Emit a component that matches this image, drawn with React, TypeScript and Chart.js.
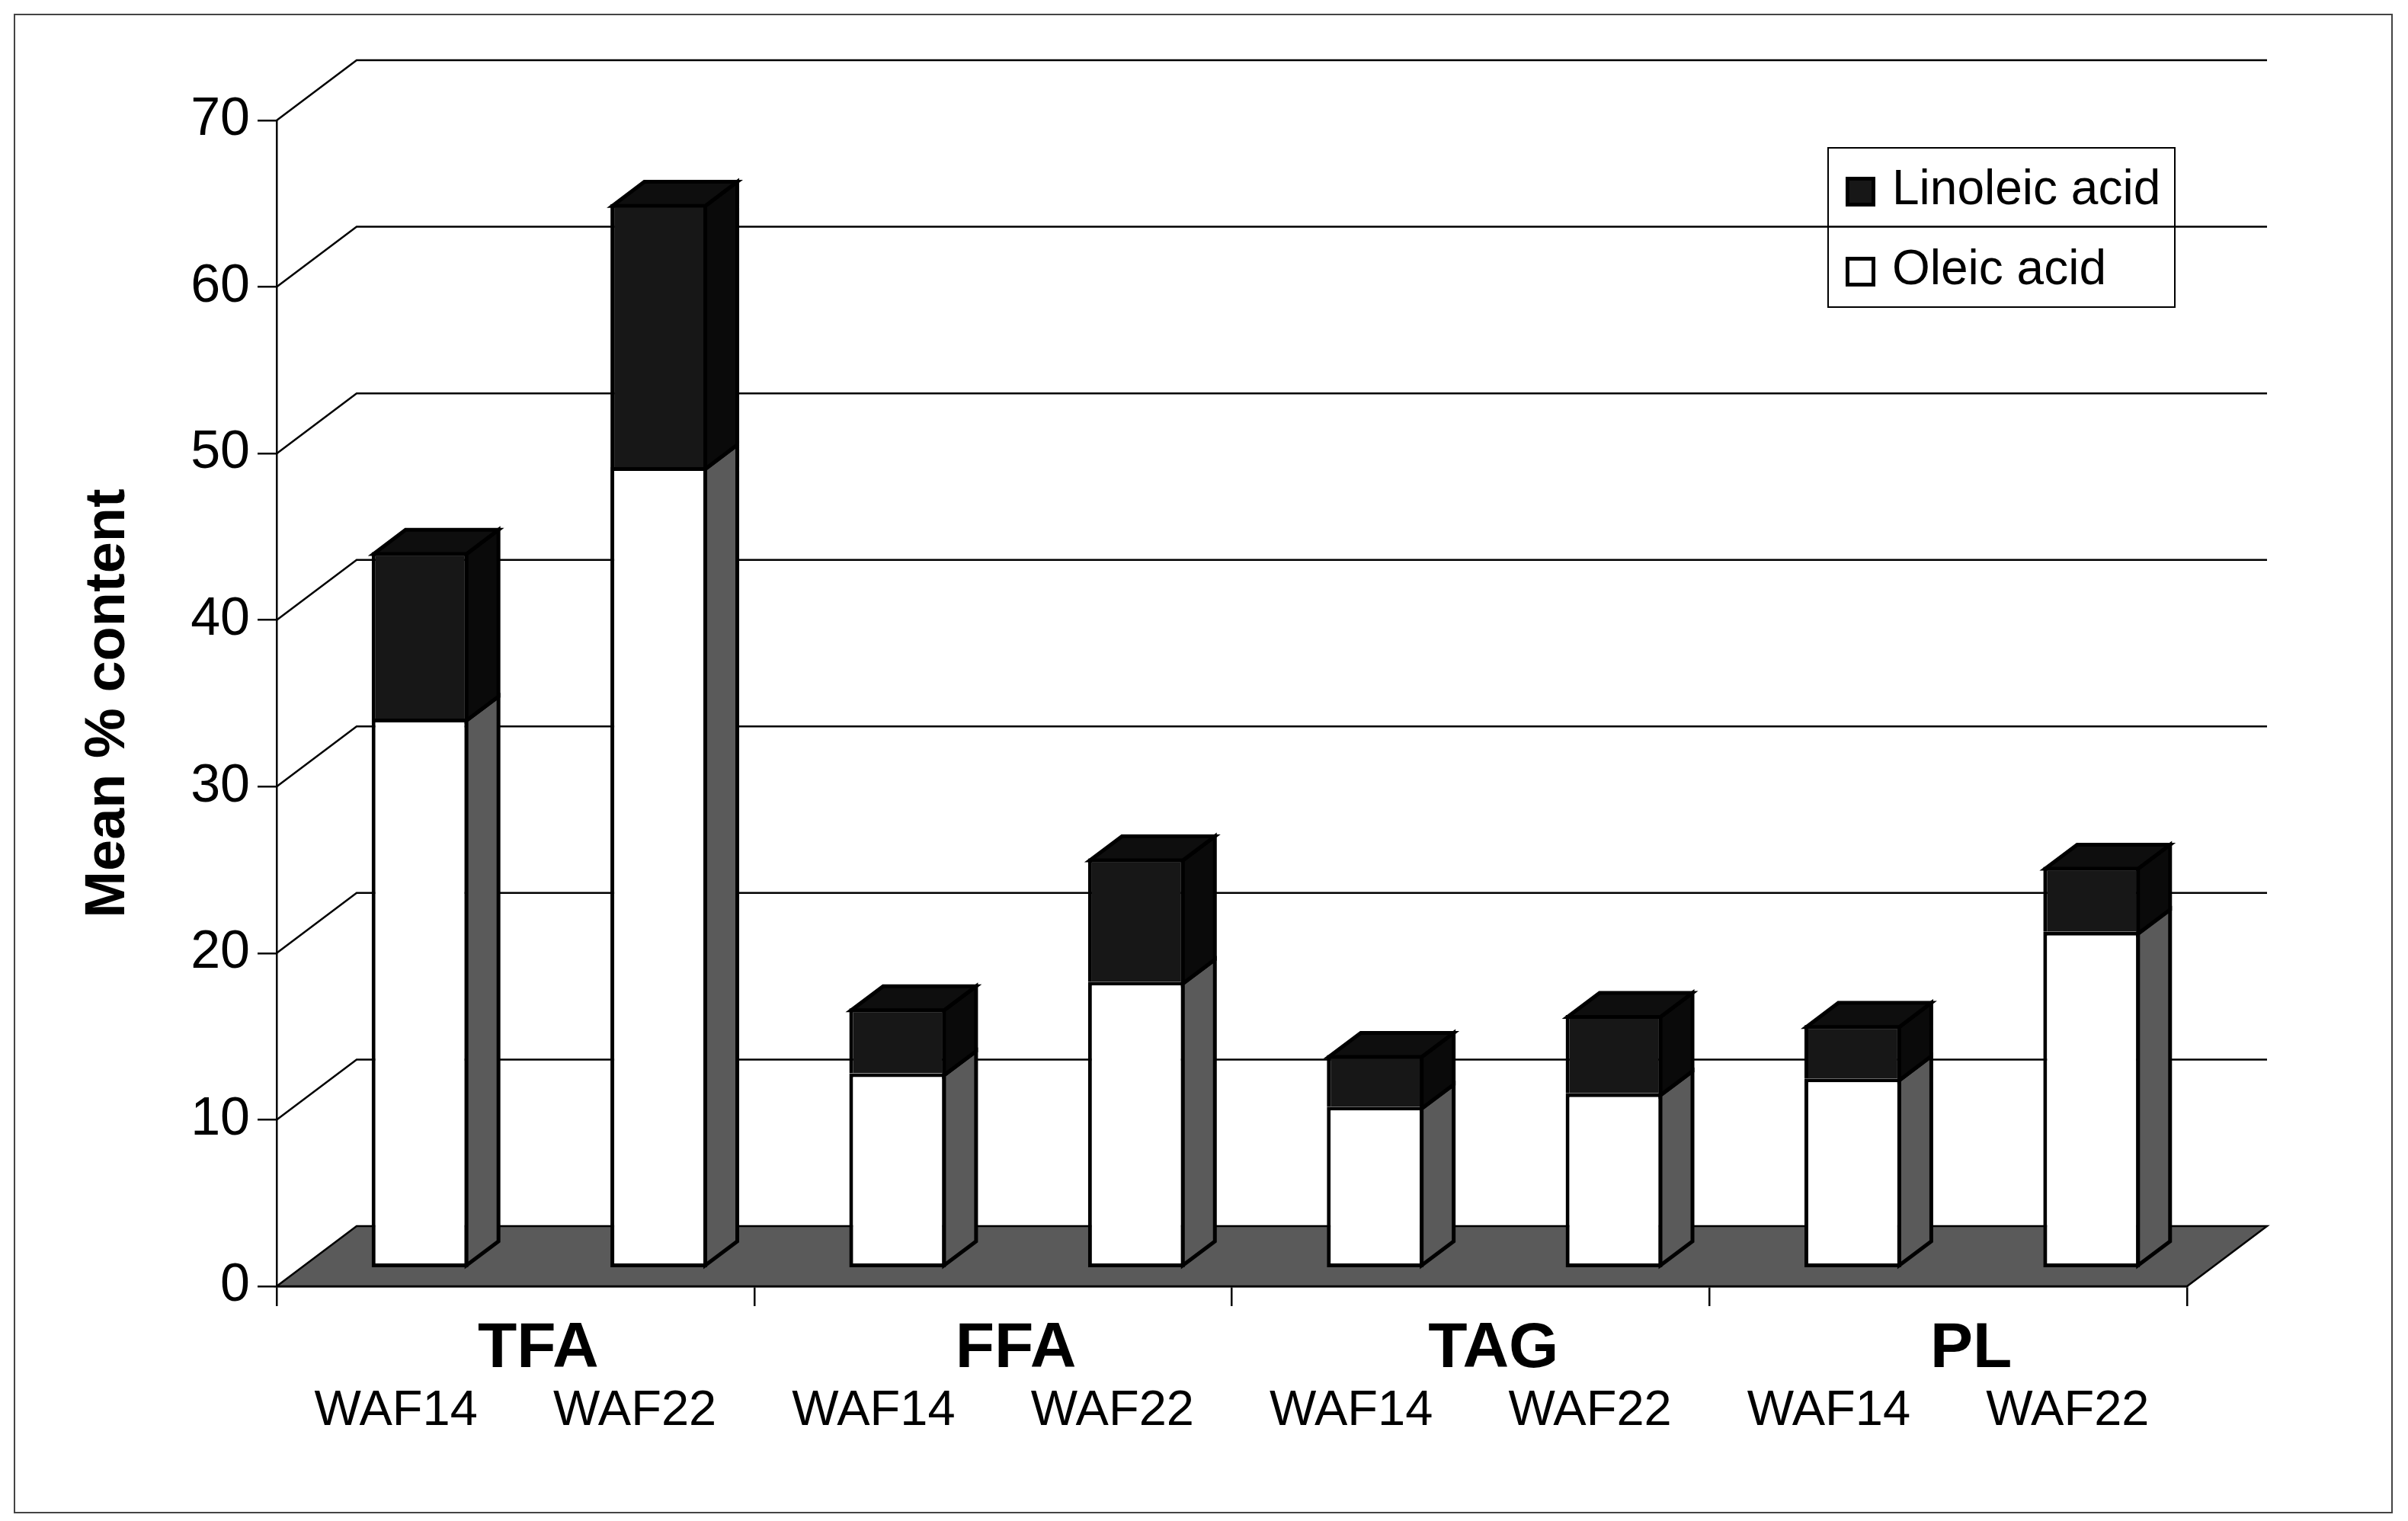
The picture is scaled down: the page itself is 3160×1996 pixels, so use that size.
import React, { useEffect, useRef } from 'react';
import { Chart, registerables } from 'chart.js';

Chart.register(...registerables);

const groups = ['TFA', 'FFA', 'TAG', 'PL'];
const samples = ['WAF14', 'WAF22', 'WAF14', 'WAF22', 'WAF14', 'WAF22', 'WAF14', 'WAF22'];
const oleic = [33.0, 48.1, 11.7, 17.2, 9.7, 10.5, 11.4, 20.2];
const linoleic = [10.0, 15.8, 3.9, 7.4, 3.1, 4.7, 3.2, 3.9];
const yMax = 70;
const yStep = 10;

const FONT = '"Liberation Sans", Arial, Helvetica, sans-serif';

// oblique depth of the whole plot box, and where the bars sit inside it
const WALL_DX = 105;
const WALL_DY = -79;
const BAR_FRONT = 0.3;
const BAR_DEPTH = 0.4;
const EDGE = 5;

const poly = (ctx: CanvasRenderingContext2D, pts: number[][], fill: string) => {
  ctx.beginPath();
  pts.forEach(([px, py], i) => (i === 0 ? ctx.moveTo(px, py) : ctx.lineTo(px, py)));
  ctx.closePath();
  ctx.fillStyle = fill;
  ctx.fill();
  ctx.stroke();
};

const depthPlugin = {
  id: 'depth3d',
  beforeDraw(chart: any) {
    const { ctx, width, height } = chart;
    ctx.save();
    ctx.fillStyle = '#fff';
    ctx.fillRect(0, 0, width, height);
    ctx.strokeStyle = '#444';
    ctx.lineWidth = 2;
    ctx.strokeRect(19, 19, 3120, 1966);
    ctx.restore();
  },
  beforeDatasetsDraw(chart: any) {
    const { ctx, chartArea: { left, right, bottom } } = chart;
    const y = chart.scales.y;
    ctx.save();
    ctx.strokeStyle = '#000';
    ctx.lineWidth = 2.5;
    y.ticks.forEach((t: any) => {
      if (t.value <= 0) return;
      const py = y.getPixelForValue(t.value);
      ctx.beginPath();
      ctx.moveTo(left, py);
      ctx.lineTo(left + WALL_DX, py + WALL_DY);
      ctx.lineTo(right + WALL_DX, py + WALL_DY);
      ctx.stroke();
    });
    ctx.lineJoin = 'miter';
    poly(ctx, [
      [left, bottom],
      [left + WALL_DX, bottom + WALL_DY],
      [right + WALL_DX, bottom + WALL_DY],
      [right, bottom],
    ], '#5a5a5a');
    ctx.restore();
    // front faces of the bars are drawn by Chart.js inside this shift
    ctx.save();
    ctx.translate(WALL_DX * BAR_FRONT, WALL_DY * BAR_FRONT);
  },
  afterDatasetsDraw(chart: any) {
    const { ctx } = chart;
    const dx = WALL_DX * BAR_DEPTH;
    const dy = WALL_DY * BAR_DEPTH;
    const h = EDGE / 2;
    const last = chart.data.datasets.length - 1;
    ctx.lineWidth = EDGE;
    ctx.strokeStyle = '#000';
    ctx.lineJoin = 'miter';
    chart.data.datasets.forEach((ds: any, di: number) => {
      const meta = chart.getDatasetMeta(di);
      meta.data.forEach((el: any) => {
        const { x, y, base, width } = el.getProps(['x', 'y', 'base', 'width'], true);
        const L = x - width / 2;
        const R = x + width / 2;
        const top = y + h;
        const bot = di === 0 ? base - h : base + h;
        poly(ctx, [[R - h, top], [R - h + dx, top + dy], [R - h + dx, bot + dy], [R - h, bot]], ds.sideColor);
        if (di === last) {
          poly(ctx, [[L + h, top], [L + h + dx, top + dy], [R - h + dx, top + dy], [R - h, top]], ds.topColor);
        }
      });
    });
    ctx.restore();
  },
  afterDraw(chart: any) {
    const { ctx } = chart;
    const bx = 2399, by = 194, bw = 455, bh = 209;
    ctx.save();
    ctx.strokeStyle = '#000';
    ctx.lineWidth = 2;
    ctx.strokeRect(bx, by, bw, bh);
    const items = [...chart.data.datasets].reverse();
    items.forEach((ds: any, i: number) => {
      const sy = by + 38 + i * 105;
      ctx.fillStyle = '#000';
      ctx.fillRect(bx + 23, sy, 39, 39);
      ctx.fillStyle = ds.backgroundColor;
      ctx.fillRect(bx + 28, sy + 5, 29, 29);
      ctx.fillStyle = '#000';
      ctx.font = `64px ${FONT}`;
      ctx.textBaseline = 'alphabetic';
      ctx.textAlign = 'left';
      ctx.fillText(ds.label, bx + 84, sy + 36);
    });
    ctx.restore();
  },
};

const App: React.FC = () => {
  const canvasRef = useRef<HTMLCanvasElement>(null);

  useEffect(() => {
    const ctx = canvasRef.current?.getContext('2d');
    if (!ctx) return;
    Chart.defaults.font.family = FONT;
    Chart.defaults.color = '#000';

    const chart = new Chart(ctx, {
      type: 'bar',
      data: {
        labels: samples,
        datasets: [
          {
            label: 'Oleic acid',
            data: oleic,
            backgroundColor: '#ffffff',
            borderColor: '#000',
            borderWidth: EDGE,
            borderSkipped: false,
            sideColor: '#5a5a5a',
            topColor: '#0e0e0e',
            xAxisID: 'x',
            clip: false,
          } as any,
          {
            label: 'Linoleic acid',
            data: linoleic,
            backgroundColor: '#171717',
            borderColor: '#000',
            borderWidth: EDGE,
            borderSkipped: 'bottom',
            sideColor: '#0a0a0a',
            topColor: '#0e0e0e',
            xAxisID: 'x',
            clip: false,
          } as any,
        ],
      },
      options: {
        responsive: false,
        devicePixelRatio: 1,
        animation: false,
        events: [],
        layout: { padding: { top: 158, right: 290, bottom: 78, left: 0 } },
        datasets: { bar: { barPercentage: 0.405, categoryPercentage: 1 } },
        plugins: { legend: { display: false }, tooltip: { enabled: false } },
        scales: {
          y: {
            stacked: true,
            min: 0,
            max: yMax,
            ticks: { stepSize: yStep, font: { size: 70 }, padding: 10, color: '#000' },
            grid: { drawOnChartArea: false, drawTicks: true, tickLength: 25, color: '#000', lineWidth: 2.5 },
            border: { display: true, color: '#000', width: 2.5 },
            title: {
              display: true,
              text: 'Mean % content',
              font: { size: 74, weight: 'bold' },
              color: '#000',
              padding: { top: 98, bottom: 0 },
            },
            afterFit: (s: any) => { s.width = 363; },
          },
          xg: {
            type: 'category',
            axis: 'x',
            position: 'bottom',
            labels: groups,
            offset: true,
            weight: 0,
            grid: { drawOnChartArea: false, drawTicks: true, tickLength: 26, offset: true, color: '#000', lineWidth: 2.5 },
            border: { display: true, color: '#000', width: 2.5 },
            ticks: { font: { size: 84, weight: 'bold' }, padding: 6, labelOffset: 30, autoSkip: false, maxRotation: 0, color: '#000' },
            afterFit: (s: any) => { s.height = 110; },
          },
          x: {
            type: 'category',
            position: 'bottom',
            stacked: true,
            offset: true,
            weight: 1,
            grid: { display: false, drawTicks: false },
            border: { display: false },
            ticks: { font: { size: 65 }, padding: 15, autoSkip: false, maxRotation: 0, color: '#000' },
            afterFit: (s: any) => { s.height = 120; },
          },
        },
      } as any,
      plugins: [depthPlugin],
    });

    return () => chart.destroy();
  }, []);

  return (
    <div style={{ position: 'absolute', left: 0, top: 0, width: 3160, height: 1996, background: '#fff' }}>
      <canvas ref={canvasRef} width={3160} height={1996} style={{ display: 'block' }} />
    </div>
  );
};

export default App;
